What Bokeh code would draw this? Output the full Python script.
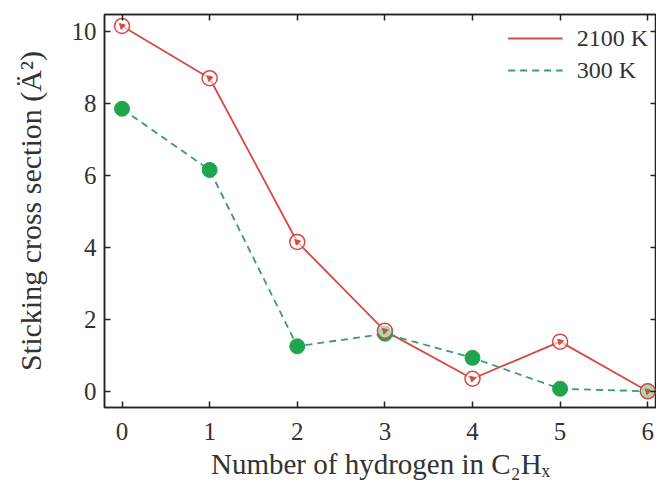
from bokeh.plotting import figure
from bokeh.models import LinearAxis, Legend, LegendItem, FixedTicker, Range1d
from bokeh.embed import file_html
from bokeh.resources import INLINE

n_hydrogen = [0, 1, 2, 3, 4, 5, 6]
sticking_2100K = [10.15, 8.7, 4.15, 1.68, 0.35, 1.38, 0.0]
sticking_300K = [7.85, 6.15, 1.25, 1.6, 0.93, 0.07, 0.0]
x_ticks = [0, 1, 2, 3, 4, 5, 6]
y_ticks = [0, 2, 4, 6, 8, 10]

RED = "#d64a44"
GREEN_M = "#1fa64c"
GREEN_L = "#3b9a72"
FONT = "Liberation Serif"

p = figure(width=662, height=476, output_backend="svg", toolbar_location=None,
           x_range=Range1d(-0.2, 6.1), y_range=Range1d(-0.45, 10.47),
           frame_width=552, frame_height=393,
           min_border_left=104, min_border_right=0, min_border_top=14, min_border_bottom=10)
p.grid.visible = False
p.outline_line_color = "#222222"
p.outline_line_width = 1.5
p.background_fill_color = "white"

def style(ax):
    ax.major_tick_in = 6
    ax.major_tick_out = 0
    ax.minor_tick_in = 0
    ax.minor_tick_out = 0
    ax.axis_line_color = "#222222"
    ax.axis_line_width = 1.5
    ax.major_tick_line_color = "#222222"
    ax.major_tick_line_width = 1.5
    ax.major_label_text_font = FONT
    ax.major_label_text_font_size = "25px"
    ax.major_label_text_color = "#333333"
    ax.axis_label_text_font = FONT
    ax.axis_label_text_font_size = "29px"
    ax.axis_label_text_font_style = "normal"
    ax.axis_label_text_color = "#333333"

p.xaxis.ticker = FixedTicker(ticks=x_ticks)
p.yaxis.ticker = FixedTicker(ticks=y_ticks)
style(p.xaxis[0]); style(p.yaxis[0])
p.xaxis.axis_label = "Number of hydrogen in C₂Hₓ"
p.yaxis.axis_label = "Sticking cross section (Ä²)"
p.yaxis.axis_label_text_font_size = "30px"
p.xaxis.major_label_standoff = 15
p.yaxis.major_label_standoff = 8
p.xaxis.axis_label_standoff = 5
p.yaxis.axis_label_standoff = 22

top = LinearAxis(ticker=FixedTicker(ticks=x_ticks),
                 major_label_overrides={t: "" for t in x_ticks})
right = LinearAxis(ticker=FixedTicker(ticks=y_ticks),
                   major_label_overrides={t: "" for t in y_ticks})
style(top); style(right)
top.major_label_standoff = 0
right.major_label_standoff = 0
p.add_layout(top, "above")
p.add_layout(right, "right")

l1 = p.line(n_hydrogen, sticking_2100K, line_color=RED, line_width=1.8)
l2 = p.line(n_hydrogen, sticking_300K, line_color=GREEN_L, line_width=1.8, line_dash="7 5")
p.scatter(n_hydrogen, sticking_300K, marker="circle", size=15, fill_color=GREEN_M, line_color=GREEN_M)
p.scatter(n_hydrogen, sticking_2100K, marker="circle", size=15, fill_color="white", fill_alpha=0.6,
          line_color=RED, line_width=1.5)
p.scatter(n_hydrogen, sticking_2100K, marker="triangle", size=6, fill_color=RED, line_color=RED, angle=0.8)

legend = Legend(items=[LegendItem(label="2100 K", renderers=[l1]),
                       LegendItem(label="300 K", renderers=[l2])],
                location="top_right", border_line_alpha=0, background_fill_alpha=0,
                label_text_font=FONT, label_text_font_size="24px", label_text_color="#333333",
                glyph_width=55, label_standoff=14, spacing=0, padding=0, margin=8,
                label_height=32, glyph_height=32)
p.add_layout(legend)

open("out.html", "w").write(file_html(p, INLINE))
